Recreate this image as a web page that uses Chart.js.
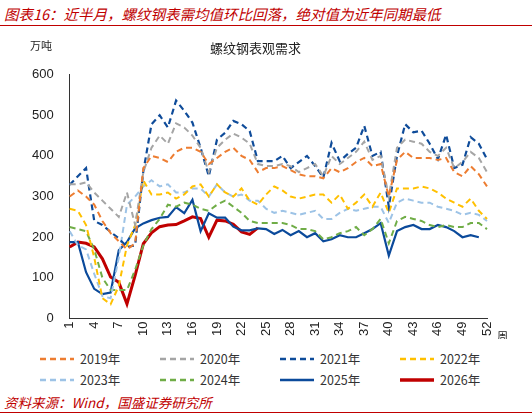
<!DOCTYPE html>
<html><head><meta charset="utf-8">
<script src="https://cdn.jsdelivr.net/npm/chart.js@4"></script>
<style>
body{margin:0;width:532px;height:415px;background:#fff;font-family:"Noto Sans CJK SC",sans-serif;position:relative;overflow:hidden}
#head{position:absolute;left:4px;top:3px;font-size:14.5px;color:#c00000;font-style:italic;white-space:nowrap}
#line{position:absolute;left:0;top:25px;width:532px;height:1px;background:#c00000}
#wrap{position:absolute;left:0;top:32px;width:532px;height:307px}
#legend{position:absolute;left:40px;top:349px;width:480px;display:grid;grid-template-columns:repeat(4,120px);row-gap:2px;font-size:12.5px;color:#333}
#legend div{display:flex;align-items:center}
#legend svg{margin-right:6px}
#foot{position:absolute;left:4px;top:392px;font-size:13.5px;color:#c00000;font-style:italic}
#fline{position:absolute;left:0;top:412px;width:532px;height:1px;background:#c00000}
</style></head><body>
<div id="head">图表16：近半月，螺纹钢表需均值环比回落，绝对值为近年同期最低</div>
<div id="line"></div>
<div id="wrap"><canvas id="c"></canvas></div>
<div id="legend"></div>
<div id="foot">资料来源：Wind，国盛证券研究所</div>
<div id="fline"></div>
<script>
// 螺纹钢表观需求（万吨），按周
const weeks = Array.from({length: 52}, (_, i) => String(i + 1));
const s2019 = [300,315,300,280,240,210,190,170,185,370,400,395,385,410,420,420,410,380,395,410,420,400,390,360,370,370,375,365,355,350,350,345,370,360,370,385,395,375,380,300,390,410,395,395,395,390,395,360,350,375,355,325];
const s2020 = [330,330,335,310,290,270,250,310,230,360,420,450,430,480,470,450,420,360,420,440,455,445,430,380,375,375,380,375,360,370,380,350,400,380,395,410,435,390,400,300,420,440,435,430,410,400,420,370,385,410,395,360];
const s2021 = [329,350,370,240,230,213,197,176,180,362,478,500,470,536,511,482,420,350,440,457,486,478,461,387,387,387,400,370,385,400,375,347,432,387,405,420,474,400,410,275,400,478,458,462,430,392,452,370,378,446,430,392];
const s2022 = [270,265,230,150,50,35,80,180,230,340,305,305,310,295,305,325,330,300,330,310,300,320,290,280,305,325,315,300,295,300,305,305,285,305,270,285,305,275,310,260,320,320,320,325,320,310,295,285,275,295,265,245];
const s2023 = [215,180,170,110,55,50,150,280,300,325,340,325,330,310,310,320,320,300,330,310,300,305,290,290,270,260,265,260,255,260,265,245,245,260,270,265,270,275,275,235,285,295,290,285,285,275,270,265,255,260,255,240];
const s2024 = [225,220,215,170,100,70,70,70,120,180,220,245,280,275,285,280,270,265,280,290,275,260,240,235,235,235,235,230,220,220,215,195,200,210,215,225,205,220,245,185,240,250,245,240,230,225,230,225,225,235,235,220];
const s2025 = [188,188,114,73,60,64,168,188,222,234,242,248,250,274,259,292,215,259,248,248,226,217,217,222,220,208,218,205,215,200,210,190,195,205,200,200,210,220,235,155,215,225,230,220,220,230,225,215,200,205,200,null];
const s2026 = [176,188,185,176,147,102,89,36,106,184,211,226,230,231,240,250,246,200,242,240,232,213,207,223];
const yTicks = [0,100,200,300,400,500,600];

const series = [
  {label: "2019年", data: s2019, color: "#ED7D31", dash: [6,4], w: 2},
  {label: "2020年", data: s2020, color: "#A5A5A5", dash: [6,4], w: 2},
  {label: "2021年", data: s2021, color: "#0F4C9A", dash: [6,4], w: 2.2},
  {label: "2022年", data: s2022, color: "#FFC000", dash: [6,4], w: 2},
  {label: "2023年", data: s2023, color: "#9DC3E6", dash: [6,4], w: 2},
  {label: "2024年", data: s2024, color: "#70AD47", dash: [6,4], w: 2},
  {label: "2025年", data: s2025, color: "#0B4A9B", dash: [], w: 2.2},
  {label: "2026年", data: s2026, color: "#C00000", dash: [], w: 3}
];

// légende HTML
const leg = document.getElementById("legend");
series.forEach(s => {
  const d = document.createElement("div");
  d.innerHTML = `<svg width="34" height="8"><line x1="0" y1="4" x2="34" y2="4" stroke="${s.color}" stroke-width="${s.w + 0.5}" stroke-dasharray="${s.dash.join(",")}"/></svg>${s.label}`;
  leg.appendChild(d);
});

new Chart(document.getElementById("c"), {
  type: "line",
  data: {
    labels: weeks,
    datasets: series.map(s => ({
      label: s.label, data: s.data, borderColor: s.color, borderDash: s.dash,
      borderWidth: s.w, pointRadius: 0, tension: 0, fill: false
    }))
  },
  options: {
    responsive: true, maintainAspectRatio: false, animation: false,
    layout: {padding: {left: 24, right: 45, top: 0, bottom: 0}},
    scales: {
      x: {
        grid: {display: false, drawTicks: false},
        border: {color: "#333"},
        ticks: {
          autoSkip: false, maxRotation: 90, minRotation: 90, color: "#222",
          font: {size: 13, family: "Liberation Sans"},
          callback: (v, i) => (i % 3 === 0 ? weeks[i] : "")
        }
      },
      y: {
        min: 0, max: 600,
        grid: {display: false},
        border: {color: "#333"},
        afterBuildTicks: ax => { ax.ticks = yTicks.map(v => ({value: v})); },
        ticks: {color: "#222", font: {size: 13, family: "Liberation Sans"}, padding: 8}
      }
    },
    plugins: {
      legend: {display: false},
      title: {display: true, text: "螺纹钢表观需求", color: "#222",
        font: {size: 13, weight: "normal", family: "Noto Sans CJK SC"}, padding: {top: 8, bottom: 19}}
    }
  },
  plugins: [{
    id: "extras",
    afterDraw: chart => {
      const ctx = chart.ctx, a = chart.chartArea;
      ctx.save();
      ctx.fillStyle = "#222";
      ctx.font = "11px 'Noto Sans CJK SC'";
      ctx.fillText("万吨", 30, 18);
      ctx.fillText("周", a.right + 10, a.bottom + 22);
      ctx.restore();
    }
  }]
});
</script>
</body></html>
